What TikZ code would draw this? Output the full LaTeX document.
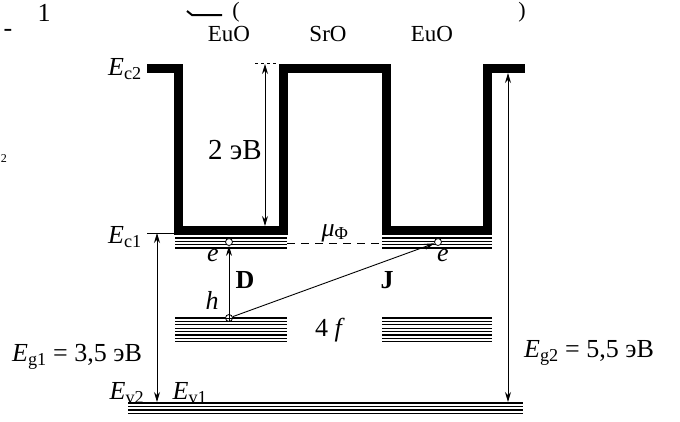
\documentclass[tikz,border=0pt]{standalone}
\usepackage{fontspec}
\setmainfont{Liberation Serif}
\usetikzlibrary{arrows.meta}
\tikzset{
  well/.style={line width=9pt},
  level/.style={line width=1.2pt},
  gap/.style={<->, line width=0.9pt},
  txt/.style={font=\fontsize{26}{30}\selectfont, inner sep=0pt},
  small/.style={font=\fontsize{23}{27}\selectfont, inner sep=0pt},
  dot/.style={circle, draw, line width=0.8pt, fill=white, minimum size=7pt, inner sep=0pt}
}
\begin{document}
\begin{tikzpicture}[x=1pt, y=-1pt, >={Stealth[length=10pt, width=6pt]}]
  \useasboundingbox (0,0) rectangle (680,421);

  % --- pieces left from the line above ---
  \node[txt, font=\fontsize{26}{30}\selectfont] (one) at (44,13) {1};
  \node[txt] (minus) at (8,33) {-};
  \node[txt, font=\fontsize{12}{14}\selectfont] (two) at (4,159) {2};
  \node[txt, font=\fontsize{22}{26}\selectfont] (lpar) at (236,12) {(};
  \node[txt, font=\fontsize{22}{26}\selectfont] (rpar) at (522,12) {)};
  \draw[line width=2pt] (187,11) -- (192,15) -- (222,15);

  % --- layers ---
  \node[small] (euoL) at (229,34) {EuO};
  \node[small] (sro) at (328,34) {SrO};
  \node[small] (euoR) at (432,34) {EuO};

  % --- conduction band profile ---
  \draw[well] (147,68) -- (178,68) -- (178,230) -- (283,230) -- (283,68)
    -- (386,68) -- (386,230) -- (487,230) -- (487,68) -- (525,68);

  % --- levels ---
  \foreach \y in {238,241.3,244.6,248} {
    \draw[level] (175,\y) -- (287,\y);
    \draw[level] (382,\y) -- (492,\y);
  }
  \foreach \i in {0,...,7} {
    \draw[level] (175,318+3.4*\i) -- (287,318+3.4*\i);
    \draw[level] (382,318+3.4*\i) -- (492,318+3.4*\i);
  }
  \foreach \y in {403,406.5,410,413.5}
    \draw[level] (128,\y) -- (523,\y);
  \draw[dashed, line width=0.9pt, dash pattern=on 8pt off 6pt] (287,243) -- (381,243);
  \draw[line width=0.9pt] (147,233) -- (178,233);

  % --- energy gaps ---
  \coordinate (top2) at (265,64);
  \coordinate (bot2) at (265,226);
  \draw[dashed, line width=0.9pt, dash pattern=on 3pt off 3pt] (255,63) -- (277,63);
  \draw[gap] (top2) -- (bot2);
  \node[txt, font=\fontsize{29}{33}\selectfont] (twoeV) at (235,150) {2 эВ};

  \coordinate (g1top) at (157,233);
  \coordinate (g1bot) at (157,402);
  \draw[gap] (g1top) -- (g1bot);
  \coordinate (g2top) at (508,73);
  \coordinate (g2bot) at (508,402);
  \draw[gap] (g2top) -- (g2bot);

  % --- carriers ---
  \node[dot] (eL) at (229,242) {};
  \node[dot] (hole) at (229,318) {};
  \draw[line width=0.6pt] (hole.north) -- (hole.south) (hole.west) -- (hole.east);
  \node[dot] (eR) at (438,242) {};
  \draw[->, line width=0.9pt] (hole) -- (eL);
  \draw[->, line width=0.9pt] (hole) -- (eR);

  % --- labels ---
  \node[txt] (Ec2) at (125,69) {\textit{E}\textsubscript{c2}};
  \node[txt] (Ec1) at (125,237) {\textit{E}\textsubscript{c1}};
  \node[txt] (Eg1) at (77,357) {\textit{E}\textsubscript{g1} = 3,5 эВ};
  \node[txt] (Ev2) at (127,393) {\textit{E}\textsubscript{v2}};
  \node[txt] (Ev1) at (190,393) {\textit{E}\textsubscript{v1}};
  \node[txt] (Eg2) at (589,353) {\textit{E}\textsubscript{g2} = 5,5 эВ};
  \node[txt] (mu) at (335,233) {\textit{μ}\textsubscript{Φ}};
  \node[txt] (eLlab) at (213,255) {\textit{e}};
  \node[txt] (hlab) at (212,300) {\textit{h}};
  \node[txt] (Dlab) at (245,280) {\textbf{D}};
  \node[txt] (Jlab) at (387,280) {\textbf{J}};
  \node[txt] (eRlab) at (443,255) {\textit{e}};
  \node[txt] (fourf) at (330,330) {4 \textit{f}};
\end{tikzpicture}
\end{document}
